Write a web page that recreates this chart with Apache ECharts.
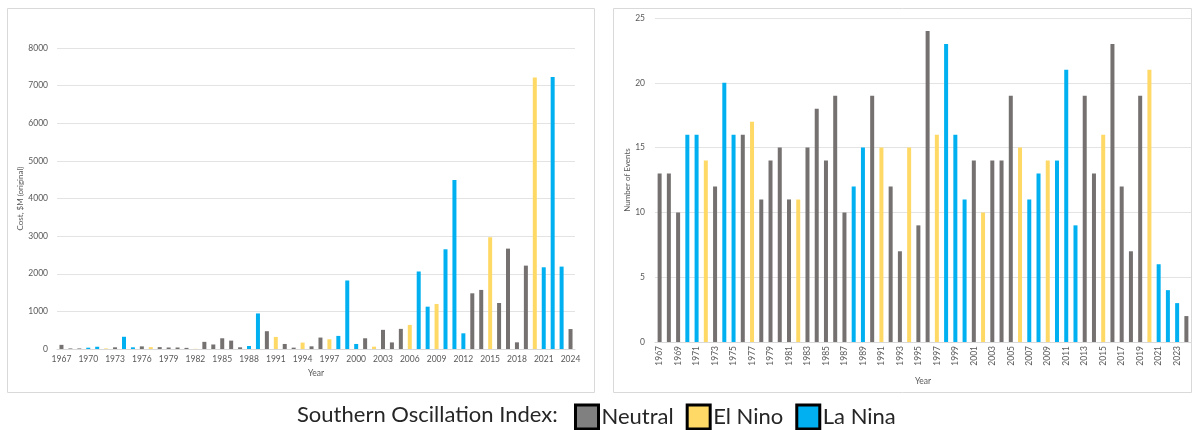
<!DOCTYPE html>
<html><head><meta charset="utf-8">
<script src="https://cdn.jsdelivr.net/npm/echarts@6/dist/echarts.min.js"></script>
<style>html,body{margin:0;padding:0;background:#fff}#c{width:1194px;height:430px}</style>
</head><body><div id="c"></div>
<script>
const years = [];
for (let y = 1967; y <= 2024; y++) years.push(String(y));
// N = Neutral, E = El Nino, L = La Nina
const phase = ['N','N','N','L','L','E','N','L','L','N','E','N','N','N','N','E','N','N','N','N','N','L','L','N','E','N','N','E','N','N','E','L','L','L','N','E','N','N','N','E','L','L','E','L','L','L','N','N','E','N','N','N','N','E','L','L','L','N'];
const cost = [110,15,15,35,60,15,45,325,45,70,50,50,40,40,30,5,190,120,285,223,45,80,945,473,321,134,36,170,71,304,259,348,1821,134,285,62,509,175,535,640,2060,1125,1197,2650,4495,417,1480,1570,2970,1223,2668,177,2216,7215,2172,7227,2190,530];
const events = [13,13,10,16,16,14,12,20,16,16,17,11,14,15,11,11,15,18,14,19,10,12,15,19,15,12,7,15,9,24,16,23,16,11,14,10,14,14,19,15,11,13,14,14,21,9,19,13,16,23,12,7,19,21,6,4,3,2];
const costTicks = {min: 0, max: 8000, interval: 1000};
const eventTicks = {min: 0, max: 25, interval: 5};

const phases = [
  {key:'N', name:'Neutral', color:'#767171', legend:'#808080'},
  {key:'E', name:'El Nino', color:'#FFD966', legend:'#FFD966'},
  {key:'L', name:'La Nina', color:'#00B0F0', legend:'#00B0F0'}
];
const FONT = 'Lato';
const lbl = {color:'#595959', fontFamily: FONT, fontSize: 8.5};

const series = [];
phases.forEach(p => {
  series.push({name:p.name, type:'bar', xAxisIndex:0, yAxisIndex:0, stack:'cost', barWidth:4,
    itemStyle:{color:p.color}, data: cost.map((v,i)=> phase[i]===p.key ? v : '-')});
  series.push({name:p.name, type:'bar', xAxisIndex:1, yAxisIndex:1, stack:'events', barWidth:4,
    itemStyle:{color:p.color}, data: events.map((v,i)=> phase[i]===p.key ? v : '-')});
});

const chart = echarts.init(document.getElementById('c'), null, {renderer:'canvas'});
chart.setOption({
  animation:false,
  textStyle:{fontFamily: FONT},
  graphic:[
    {type:'rect', shape:{x:7.5,y:8.5,width:587,height:384}, style:{fill:'none', stroke:'#d9d9d9', lineWidth:1}},
    {type:'rect', shape:{x:613.5,y:8.5,width:578,height:384}, style:{fill:'none', stroke:'#d9d9d9', lineWidth:1}},
    {type:'text', left:297, top:404, style:{text:'Southern Oscillation Index:', fontFamily:FONT, fontSize:22, fill:'#262626'}}
  ],
  legend:{
    left:574, top:403.5, itemWidth:23, itemHeight:24, itemGap:12, icon:'rect', padding:0,
    textStyle:{fontFamily:FONT, fontSize:22, color:'#262626', padding:[0,0,0,-2]},
    data: phases.map(p=>({name:p.name, itemStyle:{color:p.legend, borderColor:'#000', borderWidth:3}}))
  },
  grid:[
    {left:57, right:1194-575, top:48, bottom:430-349},
    {left:655, right:3, top:18, bottom:430-342}
  ],
  xAxis:[
    {type:'category', gridIndex:0, data:years, name:'Year', nameLocation:'middle', nameGap:20,
     nameTextStyle:{...lbl, fontSize:8.5},
     axisLine:{lineStyle:{color:'#d9d9d9'}}, axisTick:{show:false},
     axisLabel:{...lbl, interval:2, margin:6}},
    {type:'category', gridIndex:1, data:years, name:'Year', nameLocation:'middle', nameGap:35,
     nameTextStyle:{...lbl},
     axisLine:{lineStyle:{color:'#d9d9d9'}}, axisTick:{show:false},
     axisLabel:{...lbl, interval:1, rotate:90, margin:4}}
  ],
  yAxis:[
    {type:'value', gridIndex:0, ...costTicks, name:'Cost, $M (original)', nameLocation:'middle', nameGap:31,
     nameTextStyle:{...lbl, fontSize:8},
     axisLine:{show:false}, axisTick:{show:false},
     splitLine:{lineStyle:{color:'#e3e3e3'}}, axisLabel:{...lbl, margin:9, formatter: v => String(v)}},
    {type:'value', gridIndex:1, ...eventTicks, name:'Number of Events', nameLocation:'middle', nameGap:22,
     nameTextStyle:{...lbl, fontSize:8},
     axisLine:{show:false}, axisTick:{show:false},
     splitLine:{lineStyle:{color:'#e3e3e3'}}, axisLabel:{...lbl, margin:10}}
  ],
  series
});
</script></body></html>
